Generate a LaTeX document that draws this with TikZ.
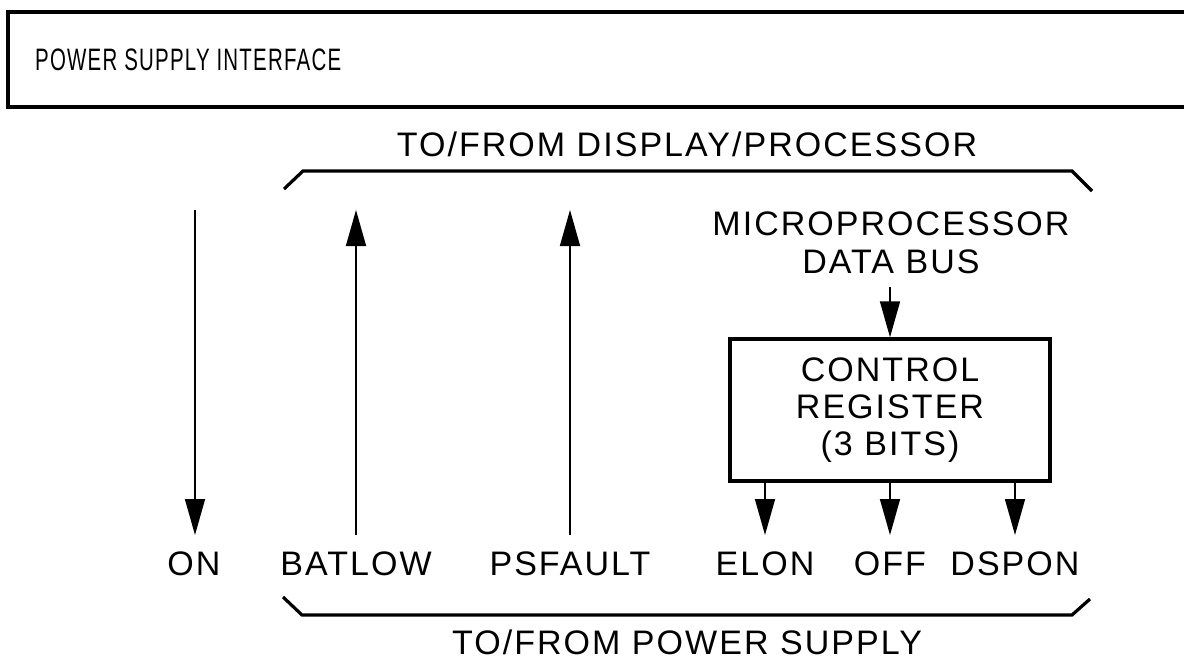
\documentclass[tikz,border=0pt]{standalone}
\usepackage{fontspec}
\setmainfont{Liberation Sans}[LetterSpace=6]
\usetikzlibrary{arrows.meta}
\tikzset{
  lbl/.style={font=\fontsize{34}{38}\selectfont, inner sep=0pt, anchor=base},
  arr/.style={line width=1.6pt, -{Triangle[length=36pt,width=20pt]}},
  thick line/.style={line width=3.2pt},
  regbox/.style={draw, line width=3.4pt, minimum width=320pt, minimum height=142pt, inner sep=0pt,
    align=center, font=\fontsize{34}{37}\selectfont},
}
\begin{document}
\begin{tikzpicture}[x=1pt,y=-1pt]
\useasboundingbox (0,0) rectangle (1184,659);
% title box
\draw[thick line] (1200,12) -| (8,107) -- (1200,107);
\node[anchor=base west, inner sep=0pt] (title) at (35,70)
  {\scalebox{0.66}[1]{\fontsize{31}{33}\selectfont POWER SUPPLY INTERFACE}};
% top bracket
\draw[thick line] (284,189) -- (303,171) -- (1072,171) -- (1092,191);
\node[lbl] (top) at (687,156) {TO/FROM DISPLAY/PROCESSOR};
% bottom bracket
\draw[thick line] (283,597) -- (302,615) -- (1072,615) -- (1090,599);
\node[lbl] (bot) at (687,654) {TO/FROM POWER SUPPLY};
% labels
\node[lbl] (on) at (194,575) {ON};
\node[lbl] (batlow) at (356,575) {BATLOW};
\node[lbl] (psfault) at (570,575) {PSFAULT};
\node[lbl] (elon) at (765,575) {ELON};
\node[lbl] (off) at (890,575) {OFF};
\node[lbl] (dspon) at (1015,575) {DSPON};
% microprocessor bus
\node[lbl] (micro) at (891,235) {MICROPROCESSOR};
\node[lbl] (dbus) at (891,273) {DATA BUS};
% control register
\node[regbox] (ctrl) at (890,410) {CONTROL\\REGISTER\\(3 BITS)};
% arrow end coordinates
\coordinate (onT) at (195,210);
\coordinate (onB) at (195,535);
\coordinate (batT) at (356,210);
\coordinate (batB) at (356,535);
\coordinate (psT) at (570,210);
\coordinate (psB) at (570,535);
\coordinate (dbT) at (890,287);
\coordinate (elonT) at (765,535);
\coordinate (offT) at (890,535);
\coordinate (dsponT) at (1015,535);
% arrows
\draw[arr] (onT) -- (onB);
\draw[arr] (batB) -- (batT);
\draw[arr] (psB) -- (psT);
\draw[arr] (dbT) -- (ctrl.north);
\draw[arr] (elonT |- ctrl.south) -- (elonT);
\draw[arr] (offT |- ctrl.south) -- (offT);
\draw[arr] (dsponT |- ctrl.south) -- (dsponT);
\end{tikzpicture}
\end{document}
